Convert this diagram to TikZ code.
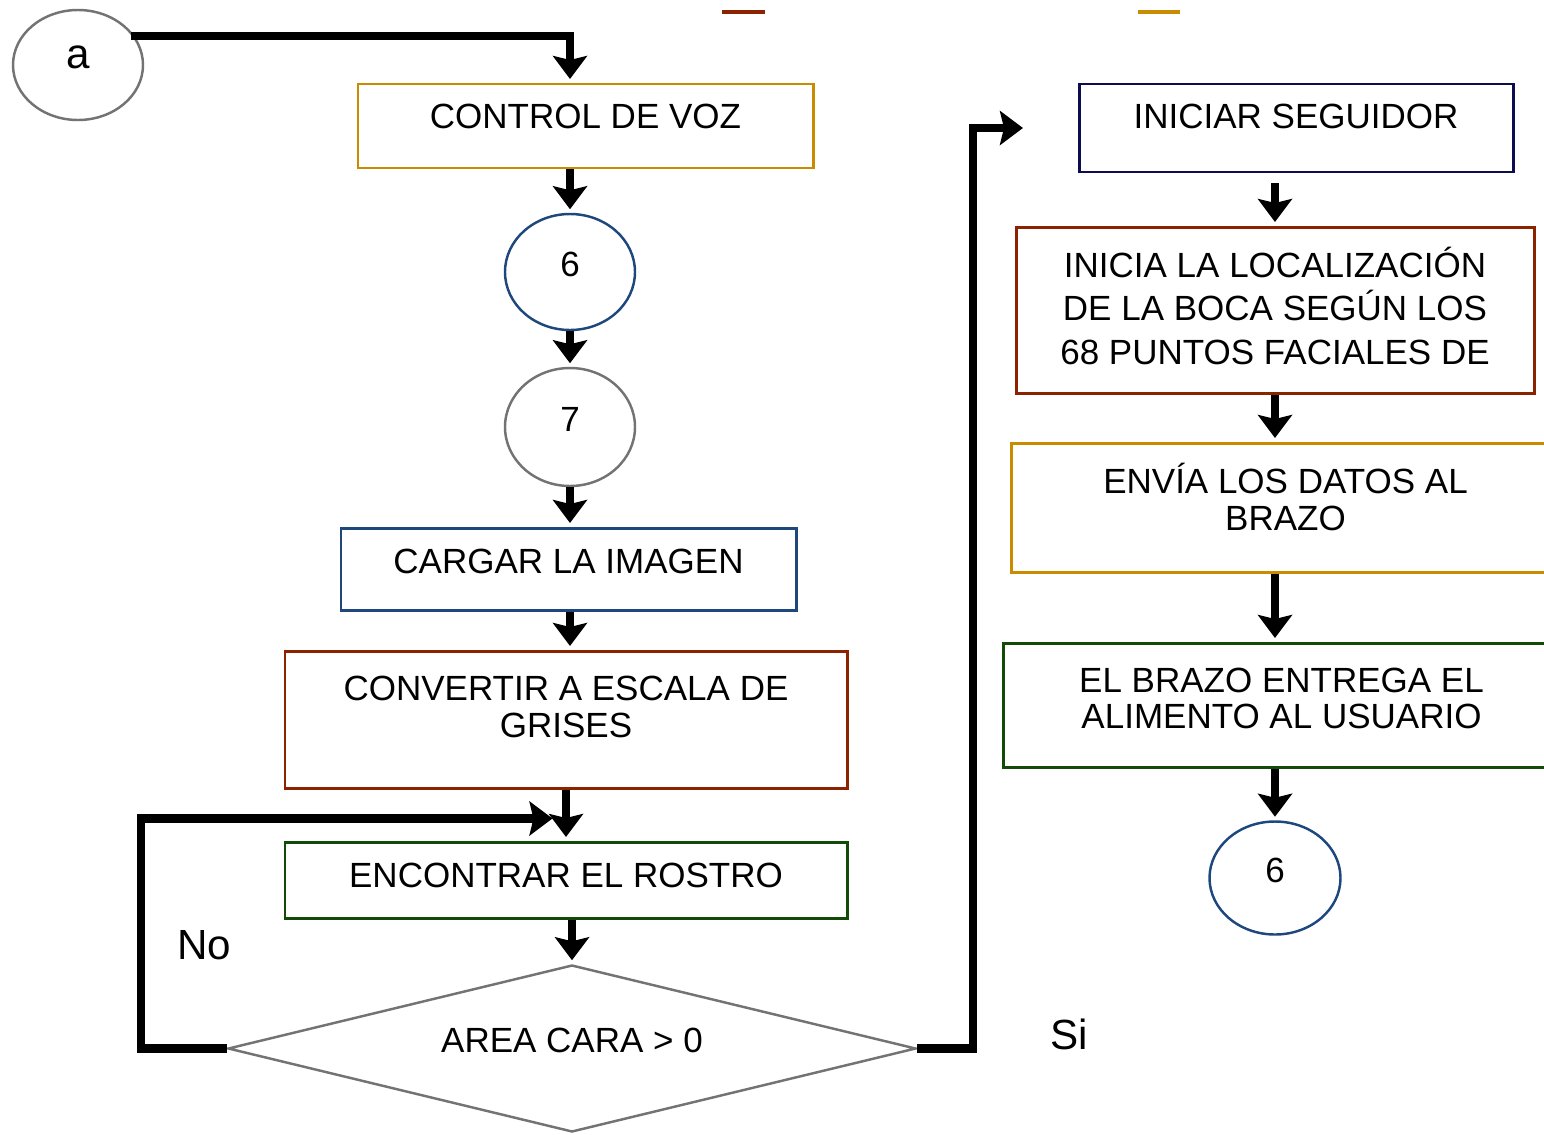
\documentclass[tikz,border=0pt]{standalone}
\usepackage{fontspec}
\setmainfont{Liberation Sans}
\usetikzlibrary{arrows.meta, shapes.geometric}

\definecolor{cOrange}{RGB}{201,139,0}
\definecolor{cRed}{RGB}{140,35,0}
\definecolor{cBlue}{RGB}{30,72,125}
\definecolor{cNavy}{RGB}{12,12,80}
\definecolor{cGreen}{RGB}{18,75,8}
\definecolor{cGray}{RGB}{115,115,115}

% width, height, first baseline, line skip, text
\newcommand{\boxtext}[5]{\parbox[c][#2][t]{#1}{\fontsize{9.96pt}{#4}\selectfont\centering\rule{0pt}{#3}#5}}

\begin{document}
\begin{tikzpicture}[
    arrow/.style={-{Stealth[length=0.23cm,width=0.34cm,inset=0.04cm]}, line width=2.3pt, shorten >=1pt},
    proc/.style={rectangle, draw, line width=0.85pt, inner sep=0pt},
    conn/.style={ellipse, draw, line width=0.7pt, inner sep=0pt, minimum width=1.30cm, minimum height=1.16cm,
                 text height=0.3cm, text depth=0.21cm, font=\fontsize{9.96pt}{12pt}\selectfont},
    decision/.style={diamond, aspect=4.12, draw=cGray, line width=0.7pt, inner sep=0pt, minimum width=6.88cm, minimum height=1.67cm,
                 text height=0.3cm, text depth=0.22cm, font=\fontsize{9.96pt}{12pt}\selectfont},
    answer/.style={font=\fontsize{12pt}{14pt}\selectfont}]
    \useasboundingbox (0,0) rectangle (15.44,-11.34);
    \clip (0,0) rectangle (15.44,-11.34);

    % left column
    \node[conn, draw=cGray, minimum height=1.10cm, text depth=0.23cm, font=\fontsize{12pt}{14pt}\selectfont] (a) at (0.78,-0.65) {a};
    \node[proc, draw=cOrange] (voz) at (5.855,-1.26) {\boxtext{4.55cm}{0.84cm}{0.44cm}{10.8pt}{CONTROL DE VOZ}};
    \node[conn, draw=cBlue] (c6) at (5.70,-2.72) {6};
    \node[conn, draw=cGray, minimum height=1.18cm] (c7) at (5.70,-4.27) {7};
    \node[proc, draw=cBlue] (cargar) at (5.685,-5.69) {\boxtext{4.55cm}{0.82cm}{0.45cm}{10.8pt}{CARGAR LA IMAGEN}};
    \node[proc, draw=cRed] (conv) at (5.66,-7.195) {\boxtext{5.62cm}{1.37cm}{0.49cm}{10.8pt}{CONVERTIR A ESCALA DE\\GRISES}};
    \node[proc, draw=cGreen] (enc) at (5.66,-8.80) {\boxtext{5.62cm}{0.76cm}{0.45cm}{10.8pt}{ENCONTRAR EL ROSTRO}};
    \node[decision] (dec) at (5.72,-10.485) {AREA CARA > 0};
    \coordinate (join) at ([xshift=-0.1cm,yshift=0.22cm]enc.north);

    % right column
    \node[proc, draw=cNavy] (seg) at (12.96,-1.28) {\boxtext{4.34cm}{0.88cm}{0.44cm}{10.8pt}{INICIAR SEGUIDOR}};
    \node[proc, draw=cRed] (ini) at (12.75,-3.10) {\boxtext{5.18cm}{1.66cm}{0.50cm}{12.5pt}{INICIA LA LOCALIZACIÓN\\DE LA BOCA SEGÚN LOS\\68 PUNTOS FACIALES DE}};
    \node[proc, draw=cOrange] (env) at (12.855,-5.075) {\boxtext{5.49cm}{1.29cm}{0.50cm}{10.6pt}{ENVÍA LOS DATOS AL\\BRAZO}};
    \node[proc, draw=cGreen] (braz) at (12.815,-7.05) {\boxtext{5.57cm}{1.24cm}{0.49cm}{10.5pt}{EL BRAZO ENTREGA EL\\ALIMENTO AL USUARIO}};
    \node[conn, draw=cBlue, minimum width=1.31cm, minimum height=1.13cm] (c6b) at (12.75,-8.78) {6};
    \coordinate (sitip) at ([xshift=-0.51cm]seg.west);

    \node[answer] (no) at (2.04,-9.45) {No};
    \node[answer] (si) at (10.69,-10.34) {Si};

    % cut off marks at the top
    \draw[cRed, line width=0.04cm] (7.22,-0.12) -- (7.65,-0.12);
    \draw[cOrange, line width=0.04cm] (11.38,-0.12) -- (11.80,-0.12);

    \draw[arrow] ([yshift=-0.04cm]a.32) -| (voz.north -| c6);
    \path[arrow]
    (voz.south -| c6) edge (c6)
    (c6) edge (c7)
    (c7) edge (cargar.north -| c7)
    (cargar.south -| c7) edge (conv.north -| c7)
    (conv.south) edge (enc.north)
    (enc.south -| dec) edge (dec.north)
    (ini.south) edge (env.north -| ini)
    (env.south -| ini) edge (braz.north -| ini)
    (braz.south -| ini) edge (c6b)
    ;
    \draw[arrow, shorten <=0.1cm] (seg.south -| ini) -- (ini.north);
    \draw[arrow] (dec.west) -- ++(-0.86,0) |- (join);
    \draw[arrow] (dec.east) -- ++(0.56,0) |- (sitip);
\end{tikzpicture}
\end{document}
